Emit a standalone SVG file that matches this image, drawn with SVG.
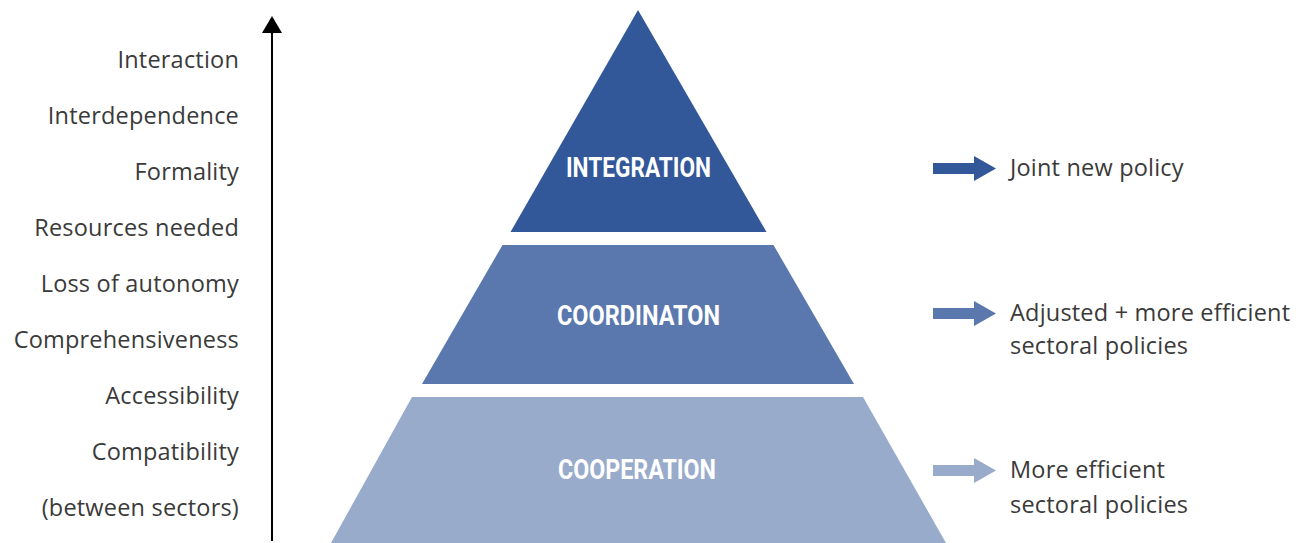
<svg xmlns="http://www.w3.org/2000/svg" width="1307" height="543" viewBox="0 0 1307 543">
<style>
.lab{font-family:"Open Sans","Liberation Sans",sans-serif;font-size:23.5px;letter-spacing:0.2px;fill:#3a3a3a;}
.l{text-anchor:end;}
.pt{font-family:Roboto,"Liberation Sans",sans-serif;font-weight:bold;font-size:27px;fill:#ffffff;text-anchor:middle;}
</style>
<rect width="1307" height="543" fill="#ffffff"/>
<g id="axis">
<line x1="272" y1="541" x2="272" y2="33" stroke="#000" stroke-width="2"/>
<path d="M262,33 L272,16 L282,33 Z" fill="#000"/>
</g>
<g id="axis-labels">
<text class="lab l" x="239" y="68">Interaction</text>
<text class="lab l" x="239" y="124">Interdependence</text>
<text class="lab l" x="239" y="180">Formality</text>
<text class="lab l" x="239" y="236">Resources needed</text>
<text class="lab l" x="239" y="292">Loss of autonomy</text>
<text class="lab l" x="239" y="348">Comprehensiveness</text>
<text class="lab l" x="239" y="404">Accessibility</text>
<text class="lab l" x="239" y="460">Compatibility</text>
<text class="lab l" x="239" y="516">(between sectors)</text>
</g>
<g id="integration">
<path d="M638,10 L766.5,232 L510.5,232 Z" fill="#32589A"/>
<text class="pt" x="638.5" y="177" textLength="145" lengthAdjust="spacingAndGlyphs">INTEGRATION</text>
</g>
<g id="coordination">
<path d="M502.5,245 L773.5,245 L854,384 L422,384 Z" fill="#5A78AE"/>
<text class="pt" x="638.5" y="325" textLength="163" lengthAdjust="spacingAndGlyphs">COORDINATON</text>
</g>
<g id="cooperation">
<path d="M412,397 L863,397 L946,543 L331,543 Z" fill="#98ABCB"/>
<text class="pt" x="637" y="479" textLength="158" lengthAdjust="spacingAndGlyphs">COOPERATION</text>
</g>
<g id="connectors">
<path d="M933,163 L974,163 L974,156 L996,168.5 L974,181 L974,174 L933,174 Z" fill="#32589A"/>
<path d="M933,308 L974,308 L974,301 L996,313.5 L974,326 L974,319 L933,319 Z" fill="#5A78AE"/>
<path d="M933,465 L974,465 L974,458 L996,470.5 L974,483 L974,476 L933,476 Z" fill="#98ABCB"/>
</g>
<g id="results">
<text class="lab" x="1010" y="176">Joint new policy</text>
<text class="lab" x="1010" y="321">Adjusted + more efficient</text>
<text class="lab" x="1010" y="354">sectoral policies</text>
<text class="lab" x="1010" y="478">More efficient</text>
<text class="lab" x="1010" y="513">sectoral policies</text>
</g>
</svg>
